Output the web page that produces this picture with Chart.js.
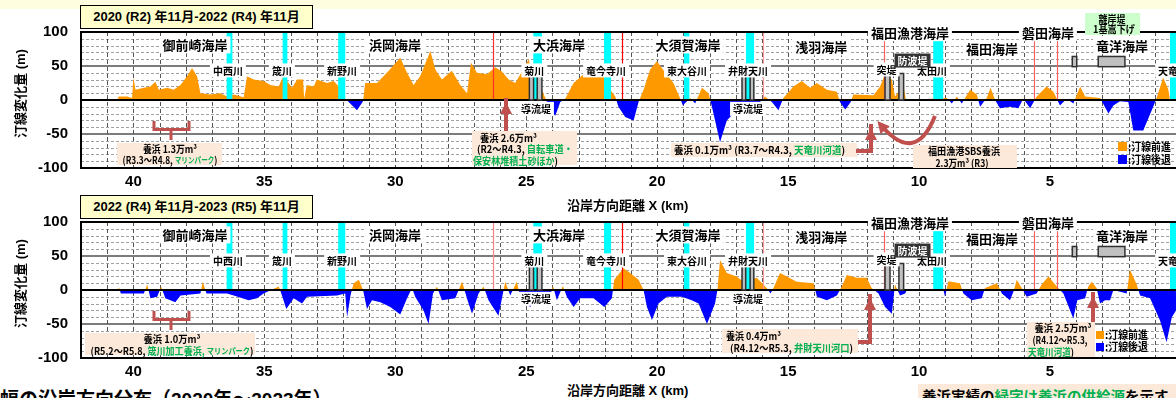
<!DOCTYPE html>
<html>
<head>
<meta charset="utf-8">
<script src="https://cdn.jsdelivr.net/npm/chart.js@4.4.1/dist/chart.umd.min.js"></script>
<style>
body { margin:0; width:1176px; height:398px; overflow:hidden; position:relative; background:#fff;
       font-family:"Liberation Sans","Noto Sans CJK JP",sans-serif; }
canvas { position:absolute; left:0; }
.strip { position:absolute; left:0; top:0; width:1176px; height:9px; background:#fffde0; }
.ttl { position:absolute; left:80px; width:231px; height:22px; background:#ffffcc; border:1.5px solid #000;
       font-size:13px; line-height:22px; text-align:center; font-weight:bold; z-index:2; }
.t { position:absolute; font-weight:bold; white-space:nowrap; z-index:2; }
.ytl { width:120px; text-align:center; font-size:13px; transform:rotate(-90deg); }
.g { color:#00b050; }
</style>
</head>
<body>
<div class="strip"></div>
<div class="ttl" style="top:5px">2020 (R2) 年11月-2022 (R4) 年11月</div>
<div class="ttl" style="top:195px">2022 (R4) 年11月-2023 (R5) 年11月</div>
<canvas id="c1" width="1176" height="190" style="top:0"></canvas>
<canvas id="c2" width="1176" height="190" style="top:190px"></canvas>
<div class="t ytl" style="left:-41px; top:84px">汀線変化量 (m)</div>
<div class="t ytl" style="left:-41px; top:274px">汀線変化量 (m)</div>
<div class="t" style="left:567px; top:195px; font-size:13px">沿岸方向距離 X (km)</div>
<div class="t" style="left:567px; top:380px; font-size:13px">沿岸方向距離 X (km)</div>
<div class="t" style="left:0; top:384px; font-size:19px">幅の沿岸方向分布（2020年～2023年）</div>
<div class="t" style="left:918px; top:384px; width:258px; height:14px; background:#fde9d9"></div>
<div class="t" style="left:922px; top:385px; font-size:14.5px">養浜実績の<span class="g">緑字は養浜の供給源</span>を示す</div>

<script>
/* ================= DATA ================= */
const xTicks = [40, 35, 30, 25, 20, 15, 10, 5];
const yTicks = [100, 50, 0, -50, -100];

// 2020(R2)11 - 2022(R4)11
const topKm = [40.62, 40.56, 40.24, 40.05, 40.0, 39.92, 39.6, 39.35, 39.16, 39.03, 38.71, 38.46, 38.2, 37.95,
  37.76, 37.57, 37.44, 37.06, 36.68, 36.42, 36.17, 35.79, 35.66, 35.41, 35.03, 34.77, 34.45, 34.32, 34.13,
  33.94, 33.75, 33.52, 33.48, 33.38, 33.12, 32.99, 32.61, 32.35, 32.16, 31.91, 31.78, 31.46, 31.23, 31.15,
  30.7, 30.32, 29.81, 29.55, 29.3, 29.05, 28.66, 28.47, 28.22, 27.84, 27.52, 27.26, 27.11, 26.88, 26.5,
  26.18, 25.93, 25.67, 25.42, 25.16, 24.91, 24.72, 24.4, 24.24, 24.08, 23.89, 23.7, 23.51, 23.19, 22.81,
  22.43, 22.05, 21.79, 21.6, 21.48, 21.22, 20.9, 20.71, 20.52, 20.27, 20.01, 19.69, 19.38, 19.12, 19.02,
  18.74, 18.55, 18.29, 18.04, 17.91, 17.6, 17.34, 17.09, 16.71, 16.2, 15.88, 15.62, 15.37, 15.18, 14.8,
  14.48, 14.16, 13.9, 13.52, 13.14, 13.02, 12.82, 12.61, 12.51, 11.74, 11.49, 11.3, 11.04, 10.92, 10.6,
  10.5, 8.94, 8.75, 8.56, 8.37, 8.05, 7.8, 7.67, 7.42, 7.27, 7.1, 6.91, 6.53, 6.21, 6.02, 5.76, 5.51, 5.13,
  4.87, 4.62, 4.36, 4.11, 3.85, 3.66, 3.09, 2.77, 2.58, 2.33, 2.01, 1.82, 1.44, 1.06, 0.93, 0.68, 0.48, 0.42];
const topVal = [0, 5, 5, 3, 33, 15, 18, 20, 27, 15, 18, 15, 22, 35,
  47, 35, 10, 8, 10, 5, 8, 4, 35, 30, 28, 22, 20, 32, 28,
  18, 30, 30, 2, 22, 20, 30, 25, 28, 20, 2, -3, -15, -2, 25,
  25, 40, 62, 40, 22, 35, 72, 45, 30, 43, 22, 10, 55, 40, 38,
  48, 42, 30, 25, 42, 60, 30, 15, 0, -15, -23, -3, 2, 25, 38,
  40, 35, 15, 5, -10, -25, -30, -3, 15, 45, 57, 40, 25, 2, -8,
  3, -5, 18, 10, -10, -62, -30, -20, -12, -8, 5, -3, -15, 3, 20,
  28, 18, 25, 15, 12, -3, -14, -3, 8, 7, 20, 38, 30, 5, 22,
  0, 3, -5, 5, -5, 15, 8, -10, 3, 18, 0, -12, -10, -12, 2, -12, 5, 20,
  12, -8, 2, -5, 20, 5, 3, -20, -8, -2, -3, -45, -45, -10, 3, 33, 15, 0];

// 2022(R4)11 - 2023(R5)11
const botKm = [40.6, 40.55, 40.48, 39.6, 39.47, 39.35, 39.09, 38.94, 38.78, 38.4, 38.2, 37.44, 37.35, 37.21,
  36.42, 36.17, 35.6, 35.28, 35.03, 34.45, 34.37, 34.16, 33.88, 33.56, 33.37, 32.22, 31.91, 31.84, 31.71,
  31.59, 31.39, 31.23, 31.15, 31.08, 30.89, 30.57, 30.19, 29.81, 29.55, 29.36, 29.24, 28.92, 28.73, 28.56,
  28.41, 28.22, 27.71, 27.45, 27.24, 27.07, 26.82, 26.63, 26.44, 26.06, 25.89, 25.8, 25.61, 25.36, 25.23,
  24.85, 24.59, 24.08, 23.98, 23.83, 23.6, 23.45, 23.19, 22.94, 22.43, 22.02, 21.73, 21.64, 21.29, 21.03,
  20.71, 20.52, 20.39, 20.2, 19.95, 19.63, 19.06, 18.68, 18.42, 18.1, 17.79, 17.7, 17.6, 17.34, 16.96,
  16.71, 16.2, 15.82, 15.67, 15.56, 15.31, 15.05, 14.67, 14.03, 13.9, 13.52, 13.14, 12.95, 12.76, 12.38,
  12.0, 11.81, 11.55, 11.3, 11.04, 10.92, 10.73, 10.53, 10.47, 9.07, 9.01, 8.88, 8.44, 8.31, 7.99, 7.61,
  7.48, 7.03, 6.84, 6.53, 6.4, 6.27, 6.08, 5.89, 5.51, 5.32, 5.06, 4.74, 4.49, 4.11, 3.96, 3.66, 3.54,
  3.41, 3.22, 3.09, 2.9, 2.71, 2.58, 2.07, 1.95, 1.69, 1.56, 1.18, 0.8, 0.55, 0.35, 0.19];
const botVal = [0, 4, -5, -5, 8, -12, -10, 5, -12, -18, -8, -5, 12, -5,
  -5, -8, -15, -12, -5, 5, -3, -28, -12, -20, -10, -8, -5, -40, -8,
  10, 15, 0, -15, -28, -15, -18, -25, -36, -12, 3, -10, -30, -50, -5,
  5, -15, -12, 12, -15, -35, -5, 5, -15, -38, -5, 12, -8, 12, -10,
  -25, -12, -8, 6, -15, 6, -10, -25, -12, -12, -25, -12, 15, 32, 25,
  15, 0, -25, -44, -20, -10, -10, -15, -20, -50, -20, 0, 44, 25, 20,
  12, 18, 3, -5, 3, 25, 20, 12, 10, -10, -15, -8, 5, 22, 18,
  18, 3, -5, -25, -35, 8, -8, -5, 0, 0, -10, 13, 10, -5, -15, -12,
  3, 10, -5, -15, -3, 15, 3, -10, -5, 8, 20, 5, -5, -42, -15, -12, 5,
  12, 3, -20, -15, -15, 0, -5, 30, 8, -8, -12, -45, -77, -40, -30];

/* ================= SHARED MARKS ================= */
const JP = '"Noto Sans CJK JP", sans-serif';
const BRICK = "#c0504d";
const GREEN = "#00b050";

// [name, kmFrom, kmTo, labelKm, topValue]
const rivers = [
    ["中西川", 36.44, 36.22, 36.39, 100],
    ["筬川", 34.30, 34.12, 34.33, 100],
    ["新野川", 32.18, 31.91, 32.03, 100],
    ["菊川", 24.73, 24.40, 24.69, 100],
    ["竜今寺川", 22.03, 21.76, 21.95, 100],
    ["東大谷川", 18.98, 18.77, 18.86, 100],
    ["弁財天川", 16.61, 16.30, 16.53, 100],
    ["太田川", 9.46, 9.08, 9.51, 87],
    ["天竜川", 0.42, 0.19, 0.30, 100]
];
const beaches = [
    ["御前崎海岸", 37.65, 81], ["浜岡海岸", 30.01, 81], ["大浜海岸", 23.75, 81],
    ["大須賀海岸", 18.82, 81], ["浅羽海岸", 13.74, 78], ["福田漁港海岸", 10.35, 99],
    ["磐田海岸", 5.08, 99], ["福田海岸", 7.22, 76], ["竜洋海岸", 2.25, 80]
];
// [kmFrom, kmTo, vLow, vHigh]
const structures = [
    [24.88, 24.72, 0, 38], [24.58, 24.40, 0, 38], [16.76, 16.62, 0, 38], [16.45, 16.31, 0, 38],
    [11.30, 11.11, 0, 40], [10.77, 10.59, 0, 39], [4.15, 3.98, 49, 64], [3.16, 2.14, 49, 64]
];
const redKm = [26.26, 21.33, 15.97, 11.34, 5.60, 4.75];

/* ================= HELPERS ================= */
function drawRuns(ctx, parts, x, y, align, target) {
    let w = 0;
    const ws = parts.map(p => {
        ctx.font = "bold " + (p[2] || 10) + "px " + JP;
        const m = ctx.measureText(p[0]).width;
        w += m;
        return m;
    });
    const sx = target ? target / w : 1;
    const left = align === "left" ? x : x - w * sx / 2;
    ctx.save();
    ctx.translate(left, y);
    ctx.scale(sx, 1);
    ctx.textBaseline = "middle";
    ctx.textAlign = "left";
    let cx = 0;
    parts.forEach((p, i) => {
        ctx.font = "bold " + (p[2] || 10) + "px " + JP;
        ctx.fillStyle = p[1] === "g" ? GREEN : (p[1] === "w" ? "#fff" : "#000");
        ctx.fillText(p[0], cx, 0);
        cx += ws[i];
    });
    ctx.restore();
}

function bgLabel(ctx, text, x, y, size, bg, fg) {
    ctx.font = "bold " + size + "px " + JP;
    const w = ctx.measureText(text).width;
    ctx.fillStyle = bg;
    ctx.fillRect(x - w / 2 - 3, y - size / 2 - 2, w + 6, size + 4);
    ctx.fillStyle = fg;
    ctx.textAlign = "center";
    ctx.textBaseline = "middle";
    ctx.fillText(text, x, y + 0.5);
}

function arrowHead(ctx, x, y, dx, dy) {
    const len = Math.hypot(dx, dy), ux = dx / len, uy = dy / len;
    ctx.beginPath();
    ctx.moveTo(x + ux * 4, y + uy * 4);
    ctx.lineTo(x - ux * 8 - uy * 6, y - uy * 8 + ux * 6);
    ctx.lineTo(x - ux * 8 + uy * 6, y - uy * 8 - ux * 6);
    ctx.closePath();
    ctx.fill();
}

function drawArrow(ctx, a) {
    ctx.save();
    ctx.strokeStyle = BRICK;
    ctx.fillStyle = BRICK;
    ctx.lineWidth = 4;
    ctx.beginPath();
    if (a.curve) {
        const [p0, c, p1] = a.curve;
        ctx.moveTo(p0[0], p0[1]);
        ctx.quadraticCurveTo(c[0], c[1], p1[0], p1[1]);
        ctx.stroke();
        arrowHead(ctx, p1[0], p1[1], p1[0] - c[0], p1[1] - c[1]);
    } else {
        const pts = a.pts;
        ctx.moveTo(pts[0][0], pts[0][1]);
        pts.slice(1).forEach(p => ctx.lineTo(p[0], p[1]));
        const n = pts.length;
        ctx.lineTo(pts[n - 1][0] + (pts[n - 1][0] - pts[n - 2][0]) * 0.0001, pts[n - 1][1] + Math.sign(pts[n - 1][1] - pts[n - 2][1]) * 8);
        ctx.stroke();
        arrowHead(ctx, pts[n - 1][0], pts[n - 1][1], pts[n - 1][0] - pts[n - 2][0], pts[n - 1][1] - pts[n - 2][1]);
    }
    ctx.restore();
}

/* ================= PLUGIN ================= */
const coastPlugin = {
    id: "coast",
    beforeDatasetsDraw(chart) {
        const { ctx, chartArea: a, scales: { x, y } } = chart;
        ctx.save();
        ctx.beginPath();
        ctx.rect(a.left, a.top, a.right - a.left, a.bottom - a.top);
        ctx.clip();
        ctx.lineWidth = 1;
        ctx.strokeStyle = "#a0a0a0";
        ctx.setLineDash([3, 2]);
        for (let v = -90; v <= 90; v += 10) {
            if (v % 50 === 0) continue;
            const py = Math.round(y.getPixelForValue(v)) + 0.5;
            ctx.beginPath(); ctx.moveTo(a.left, py); ctx.lineTo(a.right, py); ctx.stroke();
        }
        ctx.strokeStyle = "#555";
        ctx.setLineDash([4, 3]);
        for (let k = 1; k <= 41; k++) {
            const px = Math.round(x.getPixelForValue(k)) + 0.5;
            ctx.beginPath(); ctx.moveTo(px, a.top); ctx.lineTo(px, a.bottom); ctx.stroke();
        }
        ctx.setLineDash([]);
        ctx.strokeStyle = "#505050";
        ctx.lineWidth = 1.5;
        [50, -50].forEach(v => {
            const py = y.getPixelForValue(v);
            ctx.beginPath(); ctx.moveTo(a.left, py); ctx.lineTo(a.right, py); ctx.stroke();
        });
        ctx.restore();
    },
    afterDatasetsDraw(chart, args, opts) {
        const { ctx, chartArea: a, scales: { x, y } } = chart;
        const X = v => x.getPixelForValue(v), Y = v => y.getPixelForValue(v);
        ctx.save();

        // river columns
        ctx.fillStyle = "#00ffff";
        rivers.forEach(r => ctx.fillRect(X(r[1]), Y(r[4]), X(r[2]) - X(r[1]), Y(0) - Y(r[4])));

        // red reference lines
        redKm.forEach((k, i) => {
            ctx.strokeStyle = opts.red[i];
            ctx.lineWidth = 1.2;
            const px = Math.round(X(k)) + 0.5;
            ctx.beginPath(); ctx.moveTo(px, a.top); ctx.lineTo(px, Y(0)); ctx.stroke();
        });

        // zero line
        ctx.strokeStyle = "#000";
        ctx.lineWidth = 2;
        ctx.beginPath(); ctx.moveTo(a.left, Y(0)); ctx.lineTo(a.right, Y(0)); ctx.stroke();

        // structures
        structures.forEach(s => {
            const x0 = X(s[0]), y0 = Y(s[3]);
            ctx.fillStyle = "#c0c0c0";
            ctx.fillRect(x0, y0, X(s[1]) - x0, Y(s[2]) - y0);
            ctx.strokeStyle = "#303030";
            ctx.lineWidth = 1.5;
            ctx.strokeRect(x0, y0, X(s[1]) - x0, Y(s[2]) - y0);
        });

        // frame
        ctx.strokeStyle = "#000";
        ctx.lineWidth = 2;
        ctx.strokeRect(a.left, a.top, a.right - a.left + 4, a.bottom - a.top);

        // labels
        beaches.forEach(b => bgLabel(ctx, b[0], X(b[1]), Y(b[2]), 13, "#fff", "#000"));
        rivers.forEach(r => bgLabel(ctx, r[0], X(r[3]), Y(43.5), 10, "#fff", "#000"));
        bgLabel(ctx, "突堤", X(11.24), Y(45), 10, "#fff", "#000");
        bgLabel(ctx, "防波堤", X(10.25), Y(58), 10, "#333", "#fff");
        bgLabel(ctx, "導流堤", X(24.63), Y(-13), 10, "#fff", "#000");
        bgLabel(ctx, "導流堤", X(16.53), Y(-13), 10, "#fff", "#000");

        // bracket under 御前崎
        ctx.strokeStyle = BRICK;
        ctx.lineWidth = 3;
        ctx.beginPath();
        ctx.moveTo(154, 121); ctx.lineTo(154, 129.5); ctx.lineTo(189, 129.5); ctx.lineTo(189, 121);
        ctx.moveTo(171, 129.5); ctx.lineTo(171, 140);
        ctx.stroke();

        // callouts
        opts.callouts.forEach(c => {
            ctx.fillStyle = c.bg || "#fde9d9";
            ctx.fillRect(c.box[0], c.box[1], c.box[2], c.box[3]);
            c.lines.forEach(l => drawRuns(ctx, l.parts, l.x, l.y, l.align, l.w));
        });
        opts.arrows.forEach(ar => drawArrow(ctx, ar));

        // legend
        const lg = opts.legend;
        ctx.fillStyle = "#ff9900";
        ctx.fillRect(lg.x, lg.y, lg.s, lg.s);
        ctx.fillStyle = "#0000ff";
        ctx.fillRect(lg.x, lg.y + lg.gap, lg.s, lg.s);
        drawRuns(ctx, [[":汀線前進", "k", 11]], lg.tx, lg.y + lg.s / 2, "left", 43);
        drawRuns(ctx, [[":汀線後退", "k", 11]], lg.tx, lg.y + lg.gap + lg.s / 2, "left", 43);

        ctx.restore();
    }
};

/* ================= PANELS ================= */
const topOpts = {
    red: ["#ff3030", "#ff0000", "#ff9999", "#ff6060", "#ff6060", "#ff6060"],
    callouts: [
        { box: [1085, 13, 55, 22], bg: "#ccffcc", lines: [
            { x: 1112, y: 19, w: 27, parts: [["離岸堤", "k"]] },
            { x: 1114, y: 29, w: 42, parts: [["1基嵩下げ", "k"]] }] },
        { box: [117, 143, 105, 22], lines: [
            { x: 170, y: 149, w: 54, parts: [["養浜 1.3万m³", "k"]] },
            { x: 170, y: 160, w: 95, parts: [["(R3.3～R4.8, ", "k"], ["マリンパーク", "g", 8], [")", "k"]] }] },
        { box: [472, 131, 105, 34], lines: [
            { x: 480, y: 138, w: 57, align: "left", parts: [["養浜 2.6万m³", "k"]] },
            { x: 477, y: 149, w: 96, align: "left", parts: [["(R2～R4.3, ", "k"], ["自転車道・", "g"]] },
            { x: 473, y: 161, w: 85, align: "left", parts: [["保安林堆積土砂ほか", "g"], [")", "k"]] }] },
        { box: [671, 143, 186, 14], lines: [
            { x: 674, y: 150, w: 171, align: "left", parts: [["養浜 0.1万m³ (R3.7～R4.3, ", "k"], ["天竜川河道", "g"], [")", "k"]] }] },
        { box: [913, 145, 104, 23], lines: [
            { x: 964, y: 151, w: 72, parts: [["福田漁港SBS養浜", "k"]] },
            { x: 962, y: 163, w: 53, parts: [["2.3万m³ (R3)", "k"]] }] }
    ],
    arrows: [
        { pts: [[506, 131], [506, 106]] },
        { pts: [[856, 151], [871, 151], [871, 132]] },
        { curve: [[935, 116], [915, 166], [880, 124]] }
    ],
    legend: { x: 1118, y: 142, s: 9, gap: 13, tx: 1128 }
};

const botOpts = {
    red: ["#ff8080", "#ff0000", "#ff9999", "#ff6060", "#ff6060", "#ff6060"],
    callouts: [
        { box: [85, 143, 170, 22], lines: [
            { x: 172, y: 149, w: 57, parts: [["養浜 1.0万m³", "k"]] },
            { x: 172, y: 161, w: 163, parts: [["(R5.2～R5.8, ", "k"], ["筬川加工養浜, ", "g"], ["マリンパーク", "g", 8], [")", "k"]] }] },
        { box: [722, 139, 136, 24], lines: [
            { x: 726, y: 146, w: 55, align: "left", parts: [["養浜 0.4万m³", "k"]] },
            { x: 730, y: 158, w: 123, align: "left", parts: [["(R4.12～R5.3, ", "k"], ["弁財天川河口", "g"], [")", "k"]] }] },
        { box: [1027, 132, 68, 35], lines: [
            { x: 1063, y: 138, w: 57, parts: [["養浜 2.5万m³", "k"]] },
            { x: 1060, y: 150, w: 55, parts: [["(R4.12～R5.3,", "k"]] },
            { x: 1051, y: 162, w: 46, parts: [["天竜川河道", "g"], [")", "k"]] }] }
    ],
    arrows: [
        { pts: [[858, 152], [870, 152], [870, 112]] },
        { pts: [[1093, 132], [1093, 110]] }
    ],
    legend: { x: 1096, y: 141, s: 8, gap: 12, tx: 1105 }
};

function makePanel(id, km, val, opts) {
    const tickFont = { family: "Liberation Sans", size: 15, weight: "bold" };
    return new Chart(document.getElementById(id), {
        type: "line",
        data: {
            datasets: [{
                data: km.map((k, i) => ({ x: k, y: val[i] })),
                fill: { target: "origin", above: "#ff9900", below: "#0000ff" },
                borderColor: "transparent",
                borderWidth: 0,
                pointRadius: 0,
                tension: 0
            }]
        },
        options: {
            responsive: false,
            animation: false,
            devicePixelRatio: 1,
            layout: { padding: { top: 32, right: 0, bottom: 0, left: 0 } },
            plugins: { legend: { display: false }, tooltip: { enabled: false }, coast: opts },
            scales: {
                x: {
                    type: "linear", reverse: true, min: 0.19, max: 42,
                    grid: { display: false, drawTicks: false },
                    border: { display: false },
                    ticks: { font: tickFont, color: "#000", padding: 5, maxRotation: 0, autoSkip: false },
                    afterBuildTicks: s => { s.ticks = xTicks.map(v => ({ value: v })); },
                    afterFit: s => { s.height = 20; }
                },
                y: {
                    min: -100, max: 100,
                    grid: { display: false, drawTicks: false },
                    border: { display: false },
                    ticks: { font: tickFont, color: "#000", padding: 13, autoSkip: false },
                    afterBuildTicks: s => { s.ticks = yTicks.map(v => ({ value: v })); },
                    afterFit: s => { s.width = 81; }
                }
            }
        },
        plugins: [coastPlugin]
    });
}

makePanel("c1", topKm, topVal, topOpts);
makePanel("c2", botKm, botVal, botOpts);
</script>
</body>
</html>
